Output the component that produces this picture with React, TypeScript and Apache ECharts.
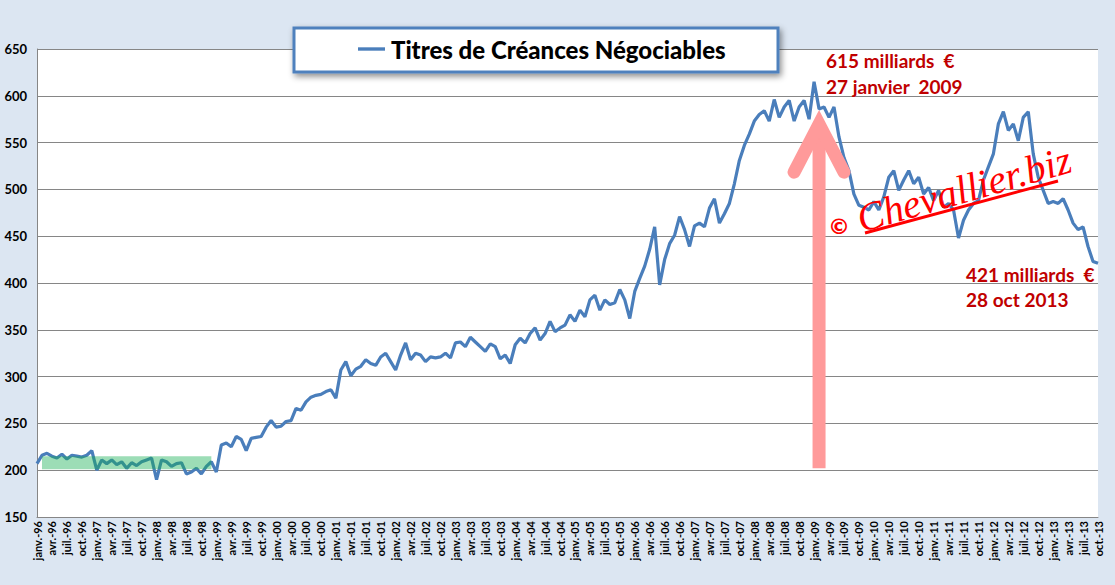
import React, { useEffect, useRef } from "react";
import * as echarts from "echarts";

const monthNames = ["janv.", "févr.", "mars", "avr.", "mai", "juin", "juil.", "août", "sept.", "oct.", "nov.", "déc."];
const years = ["96", "97", "98", "99", "00", "01", "02", "03", "04", "05", "06", "07", "08", "09", "10", "11", "12", "13"];

// Titres de Créances Négociables, monthly (milliards €), janv. 1996 -> oct. 2013
const tcn = [
  207, 216, 218, 215, 213, 217, 212, 216, 215, 214, 216, 221,
  200, 211, 207, 211, 206, 209, 202, 208, 205, 209, 211, 213,
  190, 211, 209, 204, 207, 208, 196, 198, 202, 196, 204, 209,
  198, 227, 229, 225, 236, 233, 221, 234, 235, 236, 246, 253,
  246, 247, 252, 253, 266, 264, 273, 278, 280, 281, 284, 286,
  277, 307, 316, 301, 308, 311, 318, 314, 312, 321, 325, 316,
  307, 323, 336, 318, 325, 323, 316, 321, 320, 321, 325, 320,
  336, 337, 332, 342, 337, 332, 327, 335, 332, 319, 323, 314,
  334, 341, 336, 346, 352, 339, 346, 359, 348, 352, 355, 366,
  359, 371, 364, 382, 387, 371, 382, 377, 379, 393, 382, 362,
  391, 405, 418, 436, 460, 398, 425, 442, 451, 471, 457, 439,
  461, 464, 460, 480, 490, 464, 474, 485, 506, 531, 547, 559,
  573, 580, 584, 573, 596, 577, 588, 595, 573, 588, 595, 575,
  615, 586, 588, 577, 588, 556, 534, 520, 495, 483, 481, 478,
  487, 478, 492, 513, 520, 499, 510, 520, 506, 513, 495, 502,
  488, 499, 481, 485, 478, 448, 467, 478, 485, 488, 510, 524,
  538, 570, 583, 563, 570, 552, 577, 583, 538, 513, 499, 485,
  487, 485, 490, 478, 464, 457, 460, 439, 423, 421,
];

// shaded green zone: [start month index, low, end month index, high]
const greenZone = [[1, 201, 35.3, 215]];
// arrow: [month index, bottom value, tip value]
const arrowData = [[156.6, 202, 574]];

const seriesName = "Titres de Créances Négociables";
const peakLines = ["615 milliards  €", "27 janvier  2009"];
const lastLines = ["421 milliards  €", "28 oct 2013"];

const categories: string[] = [];
for (let i = 0; i < tcn.length; i++) {
  categories.push(monthNames[i % 12] + "-" + years[Math.floor(i / 12)]);
}

const FONT = "Lato, 'Liberation Sans', sans-serif";

export default function App() {
  const ref = useRef<HTMLDivElement>(null);
  useEffect(() => {
    if (!ref.current) return;
    const chart = echarts.init(ref.current, null, { renderer: "svg" });
    const red = "#c00000";
    const annFont = "bold 19px " + FONT;
    const option: any = {
      animation: false,
      backgroundColor: "#dce6f2",
      textStyle: { fontFamily: FONT },
      grid: {
        left: 37,
        right: 17,
        top: 49,
        bottom: 68,
        show: true,
        backgroundColor: "#ffffff",
        borderWidth: 0,
      },
      legend: {
        data: [{ name: seriesName, icon: "path://M0,0 L28,0 L28,3.5 L0,3.5 Z" }],
        left: 358,
        top: 37,
        padding: 0,
        itemWidth: 27,
        itemHeight: 4,
        itemGap: 2,
        z: 20,
        textStyle: { fontFamily: FONT, fontWeight: 900, fontSize: 24, color: "#000", padding: [0, 0, 0, 1] },
      },
      xAxis: {
        type: "category",
        data: categories,
        boundaryGap: false,
        axisLine: { show: true, lineStyle: { color: "#868686", width: 1 } },
        axisTick: { show: false },
        axisLabel: {
          interval: 2,
          rotate: 90,
          margin: 4,
          color: "#000",
          fontFamily: FONT,
          fontWeight: "bold",
          fontSize: 11,
        },
        splitLine: { show: false },
      },
      yAxis: {
        type: "value",
        min: 150,
        max: 650,
        interval: 50,
        axisLine: { show: true, lineStyle: { color: "#868686", width: 1 } },
        axisTick: { show: false },
        axisLabel: { color: "#000", fontFamily: FONT, fontWeight: "bold", fontSize: 13, margin: 10 },
        splitLine: { show: true, lineStyle: { color: "#868686", width: 1 } },
      },
      series: [
        {
          name: seriesName,
          type: "line",
          data: tcn,
          symbol: "none",
          z: 2,
          lineStyle: { color: "#4a7ebb", width: 3.2 },
          itemStyle: { color: "#4a7ebb" },
        },
        {
          name: "zone",
          type: "custom",
          z: 3,
          silent: true,
          data: greenZone,
          renderItem: (params: any, api: any) => {
            const p1 = api.coord([api.value(0), api.value(3)]);
            const p2 = api.coord([api.value(2), api.value(1)]);
            return {
              type: "rect",
              shape: { x: p1[0], y: p1[1], width: p2[0] - p1[0], height: p2[1] - p1[1] },
              style: { fill: "rgba(20,175,80,0.42)" },
            };
          },
        },
        {
          name: "arrow",
          type: "custom",
          z: 4,
          silent: true,
          data: arrowData,
          renderItem: (params: any, api: any) => {
            const b = api.coord([api.value(0), api.value(1)]);
            const t = api.coord([api.value(0), api.value(2)]);
            const col = "#ff9a9a";
            return {
              type: "group",
              children: [
                {
                  type: "line",
                  shape: { x1: b[0], y1: b[1], x2: t[0], y2: t[1] + 10 },
                  style: { stroke: col, lineWidth: 13, lineCap: "butt" },
                },
                {
                  type: "polyline",
                  shape: { points: [[t[0] - 25, t[1] + 52], [t[0], t[1] + 4], [t[0] + 25, t[1] + 52]] },
                  style: { stroke: col, lineWidth: 13, lineCap: "round", lineJoin: "miter", fill: null },
                },
              ],
            };
          },
        },
      ],
      graphic: [
        {
          type: "rect",
          z: 10,
          shape: { x: 294, y: 28, width: 484, height: 44 },
          style: {
            fill: "#ffffff",
            stroke: "#4f81bd",
            lineWidth: 3,
            shadowBlur: 6,
            shadowColor: "rgba(0,0,0,0.45)",
            shadowOffsetX: 2,
            shadowOffsetY: 3,
          },
        },
        {
          type: "text",
          z: 10,
          x: 826,
          y: 60,
          style: { text: peakLines[0], fill: red, font: annFont, verticalAlign: "middle" },
        },
        {
          type: "text",
          z: 10,
          x: 826,
          y: 86,
          style: { text: peakLines[1], fill: red, font: annFont, verticalAlign: "middle" },
        },
        {
          type: "text",
          z: 10,
          x: 966,
          y: 274,
          style: { text: lastLines[0], fill: red, font: annFont, verticalAlign: "middle" },
        },
        {
          type: "text",
          z: 10,
          x: 966,
          y: 299,
          style: { text: lastLines[1], fill: red, font: annFont, verticalAlign: "middle" },
        },
        {
          type: "text",
          z: 10,
          x: 839,
          y: 226,
          style: { text: "©", fill: "#ff0000", font: "bold 22px 'DejaVu Sans', sans-serif", align: "center", verticalAlign: "middle" },
        },
        {
          type: "text",
          z: 10,
          x: 964,
          y: 189,
          rotation: 0.28,
          style: {
            text: "Chevallier.biz",
            fill: "#ff0000",
            font: "italic 40px 'Liberation Serif', serif",
            align: "center",
            verticalAlign: "middle",
          },
        },
        {
          type: "line",
          z: 10,
          shape: { x1: 865, y1: 233, x2: 1058, y2: 181 },
          style: { stroke: "#ff0000", lineWidth: 3 },
        },
      ],
    };
    chart.setOption(option);
    return () => chart.dispose();
  }, []);
  return (
    <div
      ref={ref}
      style={{ position: "fixed", left: 0, top: 0, width: 1115, height: 585 }}
    />
  );
}
